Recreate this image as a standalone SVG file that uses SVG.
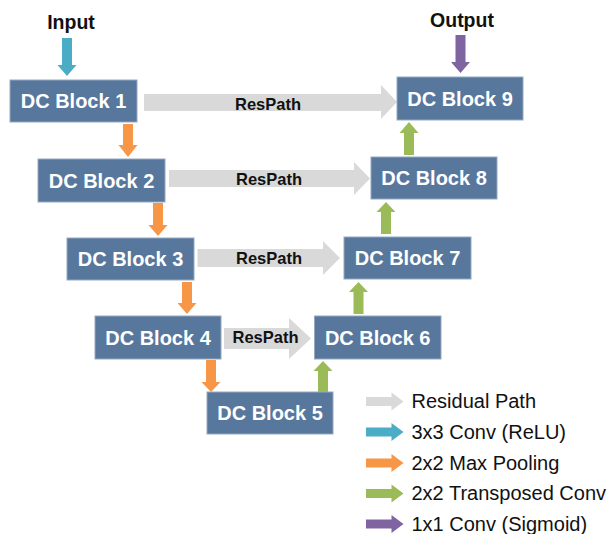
<svg xmlns="http://www.w3.org/2000/svg" width="610" height="534" viewBox="0 0 610 534">
  <style>
    .blk rect { fill: #57779d; stroke: #95a8c1; stroke-width: 1; }
    .blk text { fill: #ffffff; font-family: "Liberation Sans", Arial, sans-serif; font-weight: bold; font-size: 20px; text-anchor: middle; }
    .res { fill: #d9d9d9; }
    .conv { fill: #4bacc6; }
    .pool { fill: #f79646; }
    .up { fill: #9bbb59; }
    .sig { fill: #8064a2; }
    .rp { font-family: "Liberation Sans", Arial, sans-serif; font-weight: bold; font-size: 16.5px; fill: #111; text-anchor: middle; }
    .io { font-family: "Liberation Sans", Arial, sans-serif; font-weight: bold; font-size: 19.5px; fill: #111; text-anchor: middle; }
    .lg { font-family: "Liberation Sans", Arial, sans-serif; font-size: 20px; fill: #111; }
  </style>

  <!-- input / output labels -->
  <text class="io" x="71" y="29">Input</text>
  <text class="io" x="462" y="27">Output</text>

  <!-- connectors -->
  <g id="connectors">
    <!-- input 3x3 conv -->
    <polygon class="conv" points="62,38 72,38 72,65 76.5,65 67,76 57.5,65 62,65"/>
    <!-- output 1x1 conv -->
    <polygon class="sig" points="455.5,35 465.5,35 465.5,62 470,62 460.5,73 451,62 455.5,62"/>

    <!-- max pooling (down) -->
    <polygon class="pool" points="123,124 133,124 133,145 137.5,145 128,157 118.5,145 123,145"/>
    <polygon class="pool" points="153,203 163,203 163,225 167.5,225 158,236 148.5,225 153,225"/>
    <polygon class="pool" points="182,282 192,282 192,303 196.5,303 187,314 177.5,303 182,303"/>
    <polygon class="pool" points="206,360 216,360 216,382 220.5,382 211,392 201.5,382 206,382"/>

    <!-- transposed conv (up) -->
    <polygon class="up" points="318,392 328,392 328,371 332.5,371 323,361 313.5,371 318,371"/>
    <polygon class="up" points="353.5,314 363.5,314 363.5,292 368,292 358.5,282 349,292 353.5,292"/>
    <polygon class="up" points="381,234 391,234 391,212 395.5,212 386,202 376.5,212 381,212"/>
    <polygon class="up" points="404,155 414,155 414,133 418.5,133 409,122 399.5,133 404,133"/>

    <!-- residual paths -->
    <polygon class="res" points="144,94 381,94 381,85 397,102 381,119 381,111 144,111"/>
    <polygon class="res" points="169,170 354,170 354,162 370,178.5 354,195 354,187 169,187"/>
    <polygon class="res" points="197.5,249 323,249 323,241 340,258 323,275 323,267 197.5,267"/>
    <polygon class="res" points="224,328 289,328 289,318 311,338.5 289,359 289,349 224,349"/>
    <text class="rp" x="268" y="110">ResPath</text>
    <text class="rp" x="269" y="185">ResPath</text>
    <text class="rp" x="269" y="264">ResPath</text>
    <text class="rp" x="265.5" y="342.5">ResPath</text>
  </g>

  <!-- blocks -->
  <g id="dc1" class="blk"><rect x="10" y="80" width="127" height="42"/><text x="73.5" y="108">DC Block 1</text></g>
  <g id="dc2" class="blk"><rect x="38" y="159" width="127" height="43"/><text x="101.5" y="187.5">DC Block 2</text></g>
  <g id="dc3" class="blk"><rect x="67" y="238" width="127" height="42"/><text x="130.5" y="266">DC Block 3</text></g>
  <g id="dc4" class="blk"><rect x="95" y="316" width="126" height="43"/><text x="158" y="344.5">DC Block 4</text></g>
  <g id="dc5" class="blk"><rect x="207" y="392" width="126" height="42"/><text x="270" y="420">DC Block 5</text></g>
  <g id="dc6" class="blk"><rect x="314.5" y="316" width="126.5" height="43"/><text x="377.7" y="344.5">DC Block 6</text></g>
  <g id="dc7" class="blk"><rect x="344" y="237" width="127" height="42"/><text x="407.5" y="265">DC Block 7</text></g>
  <g id="dc8" class="blk"><rect x="371" y="157" width="126" height="42"/><text x="434" y="185">DC Block 8</text></g>
  <g id="dc9" class="blk"><rect x="397" y="77" width="126" height="43"/><text x="460" y="105.5">DC Block 9</text></g>

  <!-- legend -->
  <g id="legend">
    <polygon class="res" points="366,397 391.5,397 391.5,392.5 403.5,401.5 391.5,410.5 391.5,406 366,406"/>
    <polygon class="conv" points="366,427.5 391.5,427.5 391.5,423 403.5,432 391.5,441 391.5,436.5 366,436.5"/>
    <polygon class="pool" points="366,458.5 391.5,458.5 391.5,454 403.5,463 391.5,472 391.5,467.5 366,467.5"/>
    <polygon class="up" points="366,489 391.5,489 391.5,484.5 403.5,493.5 391.5,502.5 391.5,498 366,498"/>
    <polygon class="sig" points="366,519.5 391.5,519.5 391.5,515 403.5,524 391.5,533 391.5,528.5 366,528.5"/>
    <text class="lg" x="411.5" y="408.2">Residual Path</text>
    <text class="lg" x="411.5" y="438.9">3x3 Conv (ReLU)</text>
    <text class="lg" x="411.5" y="469.6">2x2 Max Pooling</text>
    <text class="lg" x="411.5" y="500.3">2x2 Transposed Conv</text>
    <text class="lg" x="411.5" y="531">1x1 Conv (Sigmoid)</text>
  </g>
</svg>
